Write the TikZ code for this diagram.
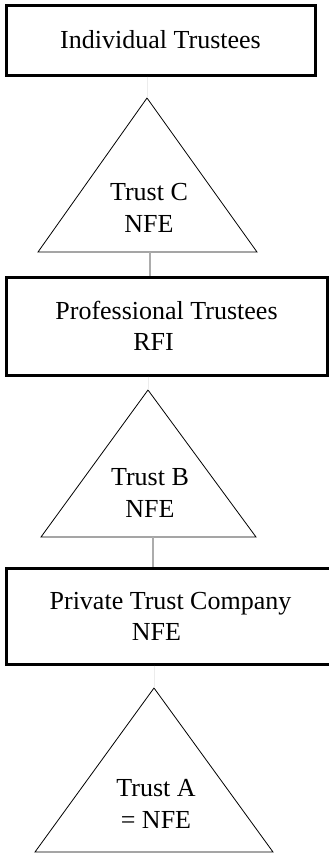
\documentclass[tikz,border=0pt]{standalone}
\usepackage{fontspec}
\setmainfont{Liberation Serif}
\begin{document}
\begin{tikzpicture}[x=1pt,y=-1pt,
  entity/.style={draw,line width=3pt,inner sep=0pt,align=center,font=\fontsize{26}{31}\selectfont},
  trustlabel/.style={inner sep=0pt,align=center,font=\fontsize{26}{32}\selectfont},
  faint/.style={gray!15,line width=0.8pt},
  link/.style={gray!65,line width=1.5pt}]
\useasboundingbox (0,0) rectangle (329,854);
\node[entity,minimum width=309,minimum height=70] (indiv) at (160.5,40) {Individual Trustees};
\node[entity,minimum width=321,minimum height=98] (prof) at (166.5,326) {Professional Trustees\\RFI\hspace*{26pt}};
\node[entity,minimum width=329,minimum height=96] (ptc) at (170.5,616) {Private Trust Company\\NFE\hspace*{28pt}};
\foreach \n/\ax/\ay/\lx/\rx/\by/\ty/\txt in {C/147/98/38/257/252/208/{Trust C\\NFE},
    B/148/390/41/256/537/493/{Trust B\\NFE},
    A/154/688/35/273/852/804/{Trust A\\= NFE}}{
  \coordinate (apex\n) at (\ax,\ay);
  \draw[line width=0.8pt,line join=miter] (\lx,\by) -- (apex\n) -- (\rx,\by) -- cycle;
  \node[trustlabel] (trust\n) at (\ax+2,\ty) {\txt};
}
\coordinate (baseC) at (150,252);
\coordinate (baseB) at (153,537);
\draw[faint] (indiv.south -| apexC) -- (apexC);
\draw[link] (baseC) -- (baseC |- prof.north);
\draw[faint] (prof.south -| apexB) -- (apexB);
\draw[link] (baseB) -- (baseB |- ptc.north);
\draw[faint] (ptc.south -| apexA) -- (apexA);
\end{tikzpicture}
\end{document}
